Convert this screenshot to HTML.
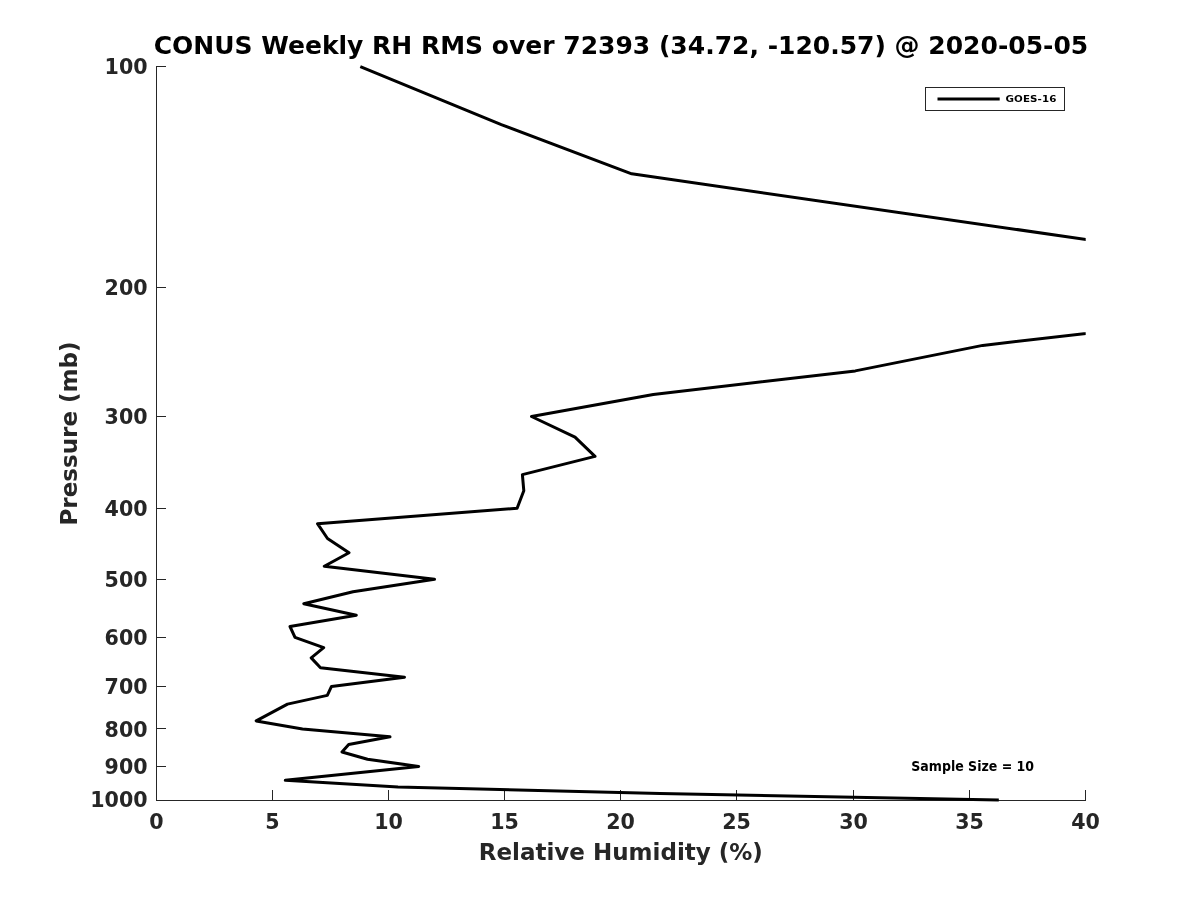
<!DOCTYPE html>
<html lang="en"><head><meta charset="utf-8"><title>CONUS Weekly RH RMS</title>
<style>
html,body{margin:0;padding:0;background:#fff;}
body{width:1200px;height:900px;overflow:hidden;}
svg{display:block;}
text{font-family:"DejaVu Sans", "Liberation Sans", sans-serif;font-weight:bold;}
.tk{font-size:20.6px;fill:#262626;}
.lb{font-size:23px;fill:#262626;}
.ax{stroke:#262626;stroke-width:1;fill:none;shape-rendering:crispEdges;}
</style></head><body>
<svg width="1200" height="900" viewBox="0 0 1200 900">
<rect width="1200" height="900" fill="#fff"/>
<defs><clipPath id="c"><rect x="156" y="62" width="929.7" height="741"/></clipPath></defs>
<text x="621" y="54.2" text-anchor="middle" font-size="25" fill="#000">CONUS Weekly RH RMS over 72393 (34.72, -120.57) @ 2020-05-05</text>
<path class="ax" d="M156.5 66V801 M156 800.5H1086"/>
<path class="ax" d="M156 66.5H166"/><text class="tk" x="147.6" y="74.3" text-anchor="end">100</text>
<path class="ax" d="M156 287.5H166"/><text class="tk" x="147.6" y="295.1" text-anchor="end">200</text>
<path class="ax" d="M156 416.5H166"/><text class="tk" x="147.6" y="424.2" text-anchor="end">300</text>
<path class="ax" d="M156 508.5H166"/><text class="tk" x="147.6" y="515.9" text-anchor="end">400</text>
<path class="ax" d="M156 579.5H166"/><text class="tk" x="147.6" y="586.9" text-anchor="end">500</text>
<path class="ax" d="M156 637.5H166"/><text class="tk" x="147.6" y="645.0" text-anchor="end">600</text>
<path class="ax" d="M156 686.5H166"/><text class="tk" x="147.6" y="694.1" text-anchor="end">700</text>
<path class="ax" d="M156 728.5H166"/><text class="tk" x="147.6" y="736.6" text-anchor="end">800</text>
<path class="ax" d="M156 766.5H166"/><text class="tk" x="147.6" y="774.1" text-anchor="end">900</text>
<text class="tk" x="147.6" y="806.9" text-anchor="end">1000</text>
<text class="tk" x="156.5" y="829.4" text-anchor="middle">0</text>
<path class="ax" d="M272.5 790V801"/><text class="tk" x="272.5" y="829.4" text-anchor="middle">5</text>
<path class="ax" d="M388.5 790V801"/><text class="tk" x="388.5" y="829.4" text-anchor="middle">10</text>
<path class="ax" d="M504.5 790V801"/><text class="tk" x="504.5" y="829.4" text-anchor="middle">15</text>
<path class="ax" d="M620.5 790V801"/><text class="tk" x="620.5" y="829.4" text-anchor="middle">20</text>
<path class="ax" d="M736.5 790V801"/><text class="tk" x="736.5" y="829.4" text-anchor="middle">25</text>
<path class="ax" d="M853.5 790V801"/><text class="tk" x="853.5" y="829.4" text-anchor="middle">30</text>
<path class="ax" d="M969.5 790V801"/><text class="tk" x="969.5" y="829.4" text-anchor="middle">35</text>
<path class="ax" d="M1085.5 790V801"/><text class="tk" x="1085.5" y="829.4" text-anchor="middle">40</text>
<text class="lb" x="620.8" y="860.1" text-anchor="middle">Relative Humidity (%)</text>
<text class="lb" transform="translate(76.8 433.5) rotate(-90)" text-anchor="middle">Pressure (mb)</text>
<g clip-path="url(#c)" fill="none" stroke="#000" stroke-width="3" stroke-linejoin="round" stroke-linecap="butt">
<path d="M360.3 66.6 L501.3 124.7 L631.7 173.8 L1500.0 299.4"/>
<path d="M1400.0 297.2 L982.7 345.4 L855.3 370.9 L653.3 394.5 L531.5 416.5 L575.0 437.1 L595.0 456.4 L522.4 474.6 L523.8 490.7 L517.1 508.2 L317.5 523.7 L327.5 538.5 L349.0 552.7 L324.3 566.2 L434.5 579.2 L353.0 591.7 L303.8 603.7 L356.3 615.3 L290.0 626.5 L295.0 637.3 L323.7 647.7 L311.2 657.9 L320.5 667.7 L404.5 677.2 L331.5 686.4 L327.3 695.4 L287.5 704.1 L256.2 720.9 L302.5 728.9 L390.0 736.8 L348.7 744.5 L342.0 752.0 L367.5 759.3 L418.7 766.4 L285.3 780.3 L398.0 787.0 L660.0 793.6 L998.8 800.0"/>
</g>
<rect x="925.5" y="87.5" width="139" height="23" fill="#fff" stroke="#262626" stroke-width="1" shape-rendering="crispEdges"/>
<path d="M937.5 99H999.7" stroke="#000" stroke-width="3" fill="none"/>
<text transform="translate(1005.5 102) scale(1.075 1)" font-size="9.6" letter-spacing="0.1" fill="#000">GOES-16</text>
<text transform="translate(911.3 770.8) scale(0.953 1)" font-size="13.2" fill="#000">Sample Size = 10</text>
</svg></body></html>
